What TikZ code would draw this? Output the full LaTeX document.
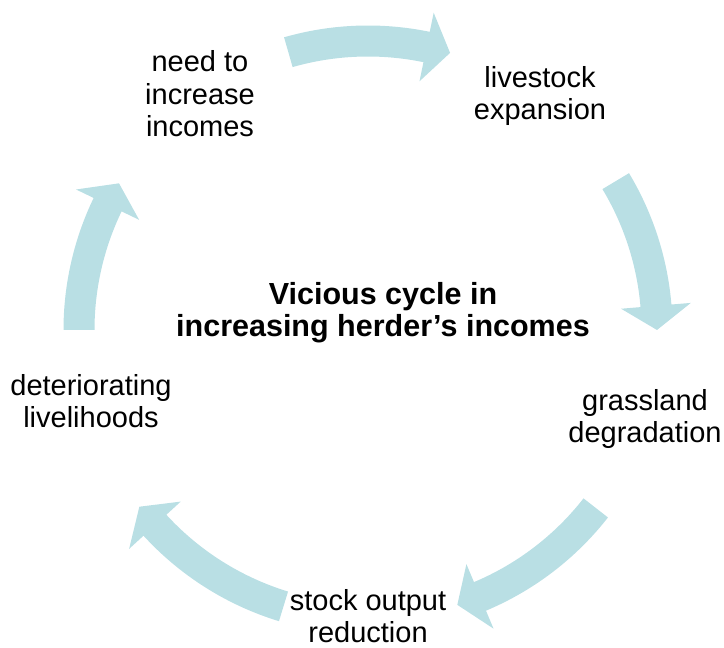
\documentclass[tikz,border=0pt]{standalone}
\usepackage{fontspec}
\setmainfont{Liberation Sans}
\definecolor{arrowteal}{RGB}{185,223,228}
\tikzset{
  cyclearrow/.style={fill=arrowteal, draw=none},
  lbl/.style={align=center, anchor=base, inner sep=0pt, font=\fontsize{29}{32.5}\selectfont},
  ttl/.style={align=center, anchor=base, inner sep=0pt, font=\bfseries\fontsize{30.5}{32}\selectfont},
}
\newcommand{\cycarrow}[2]{%
  \pgfmathsetmacro{\arrowhb}{#2+4.8}%
  \fill[cyclearrow] (#1:304.5) arc[start angle=#1, end angle=\arrowhb, radius=304.5]
    -- (\arrowhb:324) -- (#2:289) -- (\arrowhb:254) -- (\arrowhb:273.5)
    arc[start angle=\arrowhb, end angle=#1, radius=273.5] -- cycle;
}
\begin{document}
\begin{tikzpicture}[x=1pt,y=1pt]
\useasboundingbox (0,0) rectangle (724,648);
\begin{scope}[shift={(368,318)}]
  \cycarrow{106}{73.5}
  \cycarrow{31}{0}
  \cycarrow{-38}{-72}
  \cycarrow{-107}{-142.3}
  \cycarrow{180}{149.5}
\end{scope}
\node[lbl] (need) at (200,511) {need to\\increase\\incomes};
\node[lbl] (live) at (540,528) {livestock\\expansion};
\node[lbl] (grass) at (645,205) {grassland\\degradation};
\node[lbl] (stock) at (368,5) {stock output\\reduction};
\node[lbl] (det) at (91,220) {deteriorating\\livelihoods};
\node[ttl] (title) at (383,311) {Vicious cycle in\\increasing herder’s incomes};
\end{tikzpicture}
\end{document}
